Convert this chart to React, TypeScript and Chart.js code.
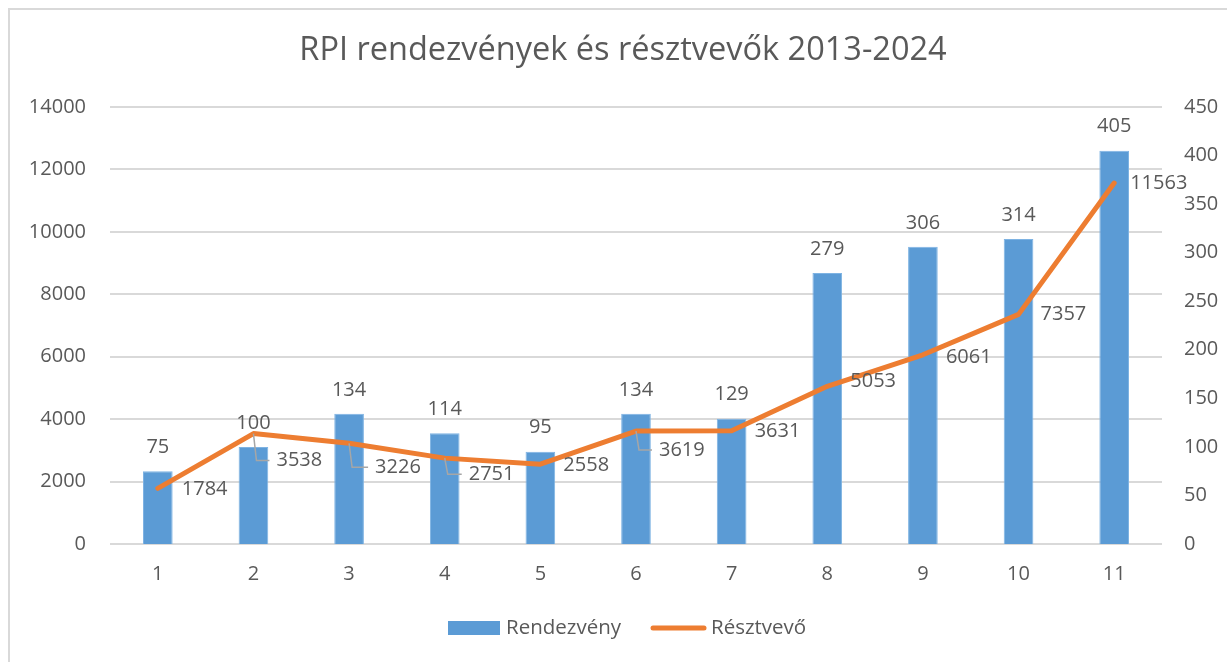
import React, { useEffect, useRef } from "react";
import { Chart, registerables } from "chart.js";

Chart.register(...registerables);

const TITLE = "RPI rendezvények és résztvevők 2013-2024";
const categories = ["1", "2", "3", "4", "5", "6", "7", "8", "9", "10", "11"];
const eventsLabel = "Rendezvény";
const eventsValues = [75, 100, 134, 114, 95, 134, 129, 279, 306, 314, 405];
const participantsLabel = "Résztvevő";
const participantsValues = [1784, 3538, 3226, 2751, 2558, 3619, 3631, 5053, 6061, 7357, 11563];

// label placement for the line's data labels (style, not data)
const lineLabelDx = [24, 23, 26, 24, 23, 23, 23, 23, 23, 22, 16];
const lineLabelDy = [1, 27, 24, 16, 1, 19, 1, -5, 2, 0, 0];
const lineLabelLeader = [false, true, true, true, false, true, false, false, false, false, false];

const FONT = "'Open Sans', 'Noto Sans', sans-serif";
const TEXT = "#595959";
const BLUE = "#5B9BD5";
const ORANGE = "#ED7D31";
const GRID = "#D9D9D9";

const overlay = {
  id: "overlay",
  afterDatasetsDraw(chart: any) {
    const ctx = chart.ctx;
    ctx.save();
    // bar labels
    const barMeta = chart.getDatasetMeta(0);
    ctx.fillStyle = TEXT;
    ctx.font = `20px ${FONT}`;
    ctx.textAlign = "center";
    ctx.textBaseline = "middle";
    barMeta.data.forEach((el: any, i: number) => {
      ctx.fillText(String(eventsValues[i]), el.x, el.y - 24);
    });
    // line labels
    const lineMeta = chart.getDatasetMeta(1);
    lineMeta.data.forEach((el: any, i: number) => {
      const lx = el.x + lineLabelDx[i];
      const ly = el.y + lineLabelDy[i];
      if (lineLabelLeader[i]) {
        ctx.strokeStyle = "#A6A6A6";
        ctx.lineWidth = 1.5;
        ctx.beginPath();
        ctx.moveTo(el.x, el.y);
        ctx.lineTo(el.x + 3, ly);
        ctx.lineTo(lx - 7, ly);
        ctx.stroke();
      }
      ctx.fillStyle = TEXT;
      ctx.textAlign = "left";
      ctx.textBaseline = "middle";
      ctx.fillText(String(participantsValues[i]), lx, ly);
    });
    ctx.restore();
  },
  afterDraw(chart: any) {
    const ctx = chart.ctx;
    ctx.save();
    // title
    ctx.fillStyle = TEXT;
    ctx.font = `32.5px ${FONT}`;
    ctx.textAlign = "center";
    ctx.textBaseline = "middle";
    ctx.fillText(TITLE, 623, 51);
    // legend
    ctx.font = `20.5px ${FONT}`;
    ctx.textAlign = "left";
    ctx.fillStyle = BLUE;
    ctx.fillRect(448, 621, 52, 14);
    ctx.fillStyle = TEXT;
    ctx.fillText(eventsLabel, 506, 628);
    ctx.strokeStyle = ORANGE;
    ctx.lineWidth = 5;
    ctx.lineCap = "round";
    ctx.beginPath();
    ctx.moveTo(653, 628);
    ctx.lineTo(704, 628);
    ctx.stroke();
    ctx.fillStyle = TEXT;
    ctx.fillText(participantsLabel, 711, 628);
    ctx.restore();
  },
};

export default function App() {
  const ref = useRef<HTMLCanvasElement | null>(null);
  useEffect(() => {
    if (!ref.current) return;
    const chart = new Chart(ref.current, {
      type: "bar",
      data: {
        labels: categories,
        datasets: [
          {
            type: "bar",
            label: eventsLabel,
            data: eventsValues,
            backgroundColor: BLUE,
            borderColor: "#7EB3E3",
            borderWidth: 1,
            yAxisID: "y1",
            barPercentage: 0.31,
            categoryPercentage: 1,
            order: 2,
          },
          {
            type: "line",
            label: participantsLabel,
            data: participantsValues,
            borderColor: ORANGE,
            backgroundColor: ORANGE,
            borderWidth: 5,
            pointRadius: 0,
            borderCapStyle: "round",
            borderJoinStyle: "round",
            tension: 0,
            yAxisID: "y",
            order: 1,
          },
        ] as any,
      },
      options: {
        animation: false,
        responsive: false,
        maintainAspectRatio: false,
        layout: { padding: { top: 107, bottom: 68, left: 0, right: 0 } },
        plugins: {
          legend: { display: false },
          title: { display: false },
          tooltip: { enabled: false },
        },
        scales: {
          x: {
            grid: { display: false, drawTicks: false },
            border: { display: false },
            ticks: { color: TEXT, font: { family: FONT, size: 20 }, padding: 18 },
            afterFit: (s: any) => { s.height = 50; },
          },
          y: {
            position: "left",
            min: 0,
            max: 14000,
            ticks: {
              stepSize: 2000,
              color: TEXT,
              font: { family: FONT, size: 20 },
              padding: 24,
              callback: (v: any) => String(v),
            },
            grid: { color: GRID, lineWidth: 2, drawTicks: false },
            border: { display: false },
            afterFit: (s: any) => { s.width = 110; },
          },
          y1: {
            position: "right",
            min: 0,
            max: 450,
            ticks: {
              stepSize: 50,
              color: TEXT,
              font: { family: FONT, size: 20 },
              padding: 22,
              callback: (v: any) => String(v),
            },
            grid: { display: false, drawTicks: false },
            border: { display: false },
            afterFit: (s: any) => { s.width = 65; },
          },
        },
      },
      plugins: [overlay],
    });
    return () => chart.destroy();
  }, []);
  return (
    <div style={{ position: "fixed", left: 0, top: 0, width: 1227, height: 662, background: "#fff" }}>
      <div
        style={{
          position: "absolute",
          left: 8,
          top: 8,
          width: 1240,
          height: 680,
          border: "2px solid #D9D9D9",
          boxSizing: "border-box",
        }}
      />
      <canvas ref={ref} width={1227} height={662} style={{ position: "absolute", left: 0, top: 0 }} />
    </div>
  );
}
